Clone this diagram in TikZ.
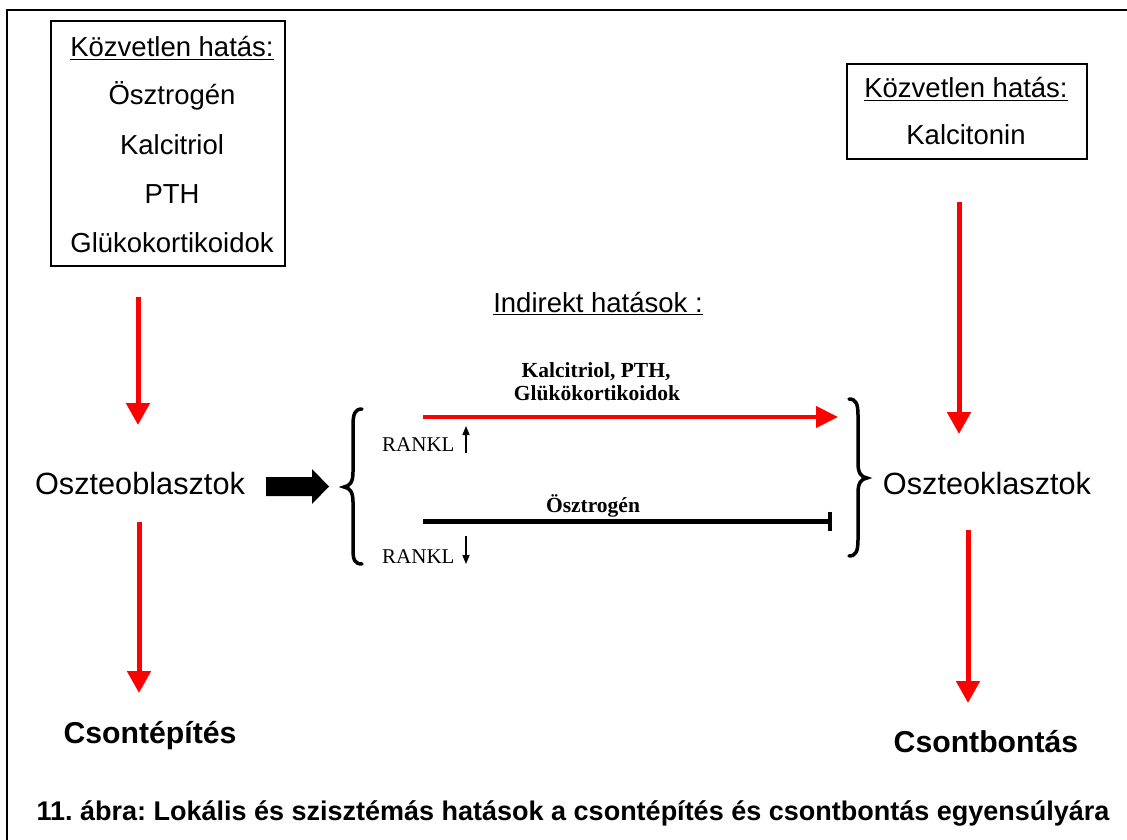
\documentclass[tikz,border=0pt]{standalone}
\usepackage{fontspec}
\setmainfont{Liberation Sans}
\newfontfamily\tnr{Liberation Serif}
\usetikzlibrary{arrows.meta,calc}
\frenchspacing
\begin{document}
\begin{tikzpicture}[x=1pt,y=1pt,
 lbl/.style={inner sep=0pt, anchor=base, font=\fontsize{27.5}{33}\selectfont},
 big/.style={inner sep=0pt, anchor=base, font=\fontsize{30.7}{36}\selectfont},
 bigb/.style={inner sep=0pt, anchor=base, font=\fontsize{30.2}{36}\selectfont\bfseries},
 capt/.style={inner sep=0pt, anchor=base, font=\fontsize{27}{32}\selectfont\bfseries},
 tim/.style={inner sep=0pt, anchor=base, font=\fontsize{21.5}{25}\selectfont\tnr\bfseries},
 timr/.style={inner sep=0pt, anchor=base west, font=\fontsize{21}{25}\selectfont\tnr},
 redarr/.style={draw=red, line width=5pt, -{Triangle[length=22pt,width=23pt]}},
 boxs/.style={draw, line width=1.6pt, inner sep=0pt, anchor=north west},
 uline/.style={line width=1.8pt},
 bracestyle/.style={line width=3.5pt, line cap=round},
 smallarr/.style={line width=1.5pt, -{Triangle[length=9pt,width=7pt]}},
]
\useasboundingbox (0,0) rectangle (1127,-840);
\draw[line width=2pt] (7,-10) rectangle (1140,-850);

% left box
\node[boxs, minimum width=234pt, minimum height=245pt] (lbox) at (50,-20) {};
\node[lbl] (k1) at (172,-57) {Közvetlen hatás:};
\draw[uline] ($(k1.base west)+(0,-2.5)$) -- ($(k1.base east)+(0,-2.5)$);
\node[lbl] (l1) at (172,-105) {Ösztrogén};
\node[lbl] (l2) at (172,-154) {Kalcitriol};
\node[lbl] (l3) at (172,-203) {PTH};
\node[lbl] (l4) at (172,-252) {Glükokortikoidok};

% right box
\node[boxs, minimum width=240pt, minimum height=95pt] (rbox) at (846,-63) {};
\node[lbl] (k2) at (966,-98) {Közvetlen hatás:};
\draw[uline] ($(k2.base west)+(0,-2.5)$) -- ($(k2.base east)+(0,-2.5)$);
\node[lbl] (r1) at (966,-145) {Kalcitonin};

% main nodes
\node[big] (ob) at (140,-494) {Oszteoblasztok};
\node[big] (ok) at (987,-494) {Oszteoklasztok};
\node[bigb] (ce) at (150,-743) {Csontépítés};
\node[bigb] (cb) at (986,-752) {Csontbontás};
\node[capt] (cap) at (573,-820) {11. ábra: Lokális és szisztémás hatások a csontépítés és csontbontás egyensúlyára};

% indirect
\node[lbl] (ind) at (598,-312) {Indirekt hatások :};
\draw[uline] ($(ind.base west)+(0,-2.5)$) -- ($(ind.base east)+(0,-2.5)$);
\node[tim] (t1) at (596,-377) {Kalcitriol, PTH,};
\node[tim] (t2) at (597,-400) {Glükökortikoidok};
\node[tim] (t3) at (593,-512) {Ösztrogén};
\node[timr] (ra1) at (382,-451) {RANKL};
\node[timr] (ra2) at (382,-563) {RANKL};

% coordinates
\coordinate (a1s) at (138,-297);
\coordinate (a1e) at (138,-425);
\coordinate (a2s) at (139,-522);
\coordinate (a2e) at (139,-693);
\coordinate (a3s) at (959,-202);
\coordinate (a3e) at (959,-434);
\coordinate (a4s) at (968,-530);
\coordinate (a4e) at (968,-703);
\coordinate (hs) at (423,-417);
\coordinate (he) at (838,-417);
\coordinate (bs) at (423,-521);
\coordinate (be) at (832,-521);
\coordinate (u1s) at (466,-453);
\coordinate (u1e) at (466,-426);
\coordinate (u2s) at (466,-536);
\coordinate (u2e) at (466,-564);

% arrows
\draw[redarr] (a1s) -- (a1e);
\draw[redarr] (a2s) -- (a2e);
\draw[redarr] (a3s) -- (a3e);
\draw[redarr] (a4s) -- (a4e);
\draw[draw=red, line width=4pt, -{Triangle[length=22pt,width=21pt]}] (hs) -- (he);
\draw[line width=5pt, -{Bar[width=19pt,line width=4.5pt]}] (bs) -- (be);
\draw[smallarr] (u1s) -- (u1e);
\draw[smallarr] (u2s) -- (u2e);

% braces
\draw[bracestyle] (362,-409) .. controls (355,-409) and (353,-414) .. (353,-425)
  -- (353,-472) .. controls (353,-482) and (350,-486) .. (344,-487)
  .. controls (350,-488) and (353,-492) .. (353,-502)
  -- (353,-550) .. controls (353,-560) and (355,-564) .. (362,-564);
\draw[bracestyle] (849,-399) .. controls (856,-399) and (858,-404) .. (858,-415)
  -- (858,-463) .. controls (858,-473) and (861,-477) .. (867,-478)
  .. controls (861,-479) and (858,-483) .. (858,-493)
  -- (858,-540) .. controls (858,-551) and (856,-556) .. (849,-556);

% thick arrow
\fill (266,-477) -- (312,-477) -- (312,-469) -- (329,-486.5) -- (312,-504) -- (312,-496) -- (266,-496) -- cycle;
\end{tikzpicture}
\end{document}
